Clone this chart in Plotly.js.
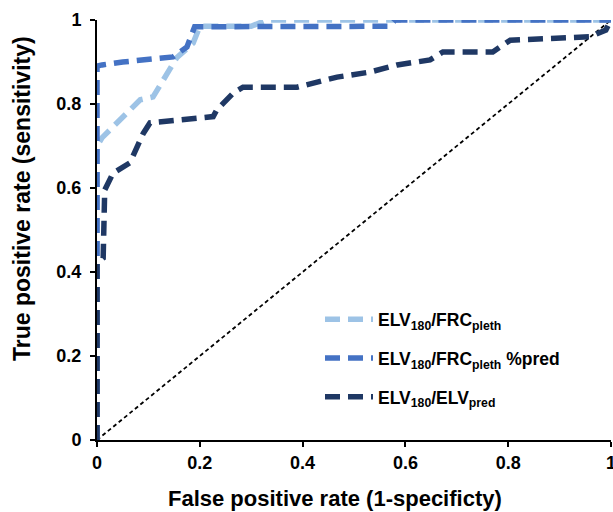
<!DOCTYPE html>
<html><head><meta charset="utf-8">
<script src="https://cdn.plot.ly/plotly-3.0.1.min.js"></script>
<style>body{margin:0;background:#fff}#c{width:613px;height:512px}</style>
</head><body><div id="c"></div>
<script>
var names = ["ELV<sub>180</sub>/FRC<sub>pleth</sub>", "ELV<sub>180</sub>/FRC<sub>pleth</sub> %pred", "ELV<sub>180</sub>/ELV<sub>pred</sub>"];
var colors = ["#9dc3e6", "#4472c4", "#1f3864"];
var fprLight = [0, 0, 0.01, 0.05, 0.084, 0.109, 0.148, 0.155, 0.187, 0.2, 0.3, 0.33, 1];
var tprLight = [0, 0.70, 0.72, 0.77, 0.81, 0.817, 0.90, 0.91, 0.945, 0.985, 0.985, 1, 1];
var fprMed = [0, 0, 0.01, 0.05, 0.148, 0.175, 0.19, 0.57, 0.58, 1];
var tprMed = [0, 0.89, 0.893, 0.90, 0.912, 0.936, 0.984, 0.985, 1, 1];
var fprDark = [0, 0, 0.012, 0.015, 0.031, 0.064, 0.09, 0.103, 0.226, 0.233, 0.265, 0.284, 0.389, 0.467, 0.531, 0.584, 0.648, 0.673, 0.77, 0.804, 0.959, 0.99, 1];
var tprDark = [0, 0.42, 0.433, 0.595, 0.635, 0.66, 0.73, 0.755, 0.77, 0.786, 0.826, 0.84, 0.84, 0.864, 0.876, 0.893, 0.905, 0.924, 0.924, 0.952, 0.96, 0.976, 1];
var refLine = [0, 1];
var xTicks = [0, 0.2, 0.4, 0.6, 0.8, 1];
var xTickText = ["0", "0.2", "0.4", "0.6", "0.8", "1"];
var xTitle = "False positive rate (1-specificty)";
var yTitle = "True positive rate (sensitivity)";

var font = "Liberation Sans, Arial, sans-serif";
var data = [
  {x: refLine, y: refLine, mode: "lines", line: {color: "#000", width: 1.8, dash: "4px,3px"}, showlegend: false, hoverinfo: "skip"},
  {x: fprLight, y: tprLight, mode: "lines", name: names[0], legendgroup: "a", line: {color: colors[0], width: 5.5, dash: "15px,8px"}},
  {x: fprMed, y: tprMed, mode: "lines", name: names[1], legendgroup: "b", line: {color: colors[1], width: 5.5, dash: "15px,8px"}},
  {x: fprDark, y: tprDark, mode: "lines", name: names[2], legendgroup: "c", line: {color: colors[2], width: 5.5, dash: "15px,8px"}}
];
var axisCommon = {range: [0, 1], tickvals: xTicks, ticktext: xTickText, showgrid: false, zeroline: false,
    showline: true, linecolor: "#000", linewidth: 2, ticks: "outside", ticklen: 5, tickwidth: 2, tickcolor: "#000",
    tickfont: {family: font, size: 18, weight: "bold"}, ticklabeloverflow: "allow", ticklabelposition: "outside"};
var layout = {
  width: 613, height: 512,
  margin: {l: 97, r: 2, t: 20, b: 72},
  paper_bgcolor: "#fff", plot_bgcolor: "#fff",
  font: {family: font, color: "#000"},
  showlegend: true,
  legend: {x: (320 - 97) / 514, y: 0.33, xanchor: "left", yanchor: "top", bgcolor: "rgba(0,0,0,0)",
    font: {family: font, size: 17.5, color: "#000", weight: "bold"}, traceorder: "grouped", tracegroupgap: 13, itemwidth: 48},
  xaxis: Object.assign({}, axisCommon, {ticklabelstandoff: 0}),
  yaxis: Object.assign({}, axisCommon, {ticklabelstandoff: 5}),
  annotations: [
    {text: xTitle, xref: "paper", yref: "paper", x: (335 - 97) / 514, y: (440 - 498) / 420, xanchor: "center", yanchor: "middle", showarrow: false,
     font: {family: font, size: 22, weight: "bold", color: "#000"}},
    {text: yTitle, xref: "paper", yref: "paper", x: (22 - 97) / 514, y: (440 - 199) / 420, xanchor: "center", yanchor: "middle", showarrow: false, textangle: -90,
     font: {family: font, size: 23, weight: "bold", color: "#000"}}
  ]
};
Plotly.newPlot("c", data, layout, {staticPlot: true});
</script></body></html>
